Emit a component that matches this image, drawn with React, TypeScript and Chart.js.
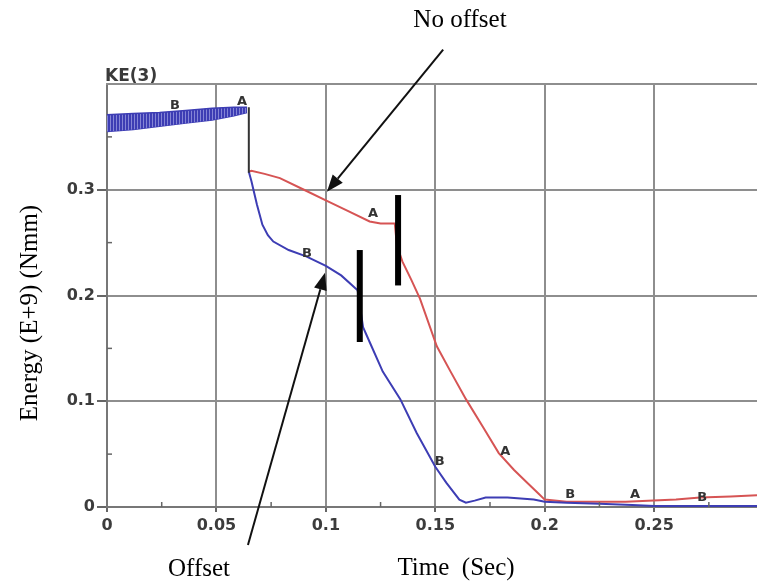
import React, { useEffect, useRef } from "react";
import { Chart, registerables } from "chart.js";

Chart.register(...registerables);

// ---- data (time in s, energy in E+9 Nmm) ----
const bandX = [0, 0.012, 0.024, 0.036, 0.048, 0.058, 0.064];
const bandTop = [0.371, 0.372, 0.373, 0.375, 0.377, 0.378, 0.378];
const bandBottom = [0.355, 0.357, 0.360, 0.363, 0.366, 0.370, 0.373];

const dropX = [0.0648, 0.0648];
const dropY = [0.378, 0.316];

const blueX = [0.0648, 0.066, 0.0685, 0.071, 0.0735, 0.076, 0.083, 0.091, 0.1, 0.107, 0.1145, 0.117, 0.12, 0.126, 0.134, 0.1415, 0.15, 0.155, 0.161, 0.164, 0.168, 0.173, 0.183, 0.195, 0.2, 0.21, 0.225, 0.24, 0.25, 0.297];
const blueY = [0.317, 0.308, 0.286, 0.267, 0.257, 0.251, 0.243, 0.237, 0.228, 0.219, 0.205, 0.170, 0.156, 0.128, 0.102, 0.070, 0.038, 0.023, 0.007, 0.004, 0.006, 0.009, 0.009, 0.007, 0.005, 0.004, 0.003, 0.002, 0.001, 0.001];

const redX = [0.0648, 0.066, 0.072, 0.079, 0.09, 0.1, 0.11, 0.12, 0.125, 0.1315, 0.1325, 0.135, 0.139, 0.143, 0.1507, 0.157, 0.164, 0.172, 0.179, 0.186, 0.192, 0.197, 0.2, 0.21, 0.237, 0.26, 0.271, 0.285, 0.297];
const redY = [0.317, 0.318, 0.315, 0.311, 0.300, 0.290, 0.280, 0.270, 0.268, 0.268, 0.247, 0.232, 0.215, 0.197, 0.152, 0.128, 0.102, 0.075, 0.051, 0.035, 0.023, 0.013, 0.007, 0.005, 0.005, 0.007, 0.009, 0.010, 0.011];

const xTicks = [0, 0.05, 0.1, 0.15, 0.2, 0.25];
const xTickLabels = ["0", "0.05", "0.1", "0.15", "0.2", "0.25"];
const yTicks = [0, 0.1, 0.2, 0.3];
const yTickLabels = ["0", "0.1", "0.2", "0.3"];
const xMinorTicks = [0.025, 0.075, 0.125, 0.175, 0.225, 0.275];
const yMinorTicks = [0.05, 0.15, 0.25, 0.35];

const curveLabels = ["B", "A", "A", "B", "B", "A", "B", "A", "B"];
const curveLabelX = [0.031, 0.0617, 0.1216, 0.0914, 0.152, 0.182, 0.2116, 0.2413, 0.272];
const curveLabelY = [0.380, 0.383, 0.277, 0.240, 0.0426, 0.052, 0.0114, 0.0114, 0.0085];

const markerX = [0.1155, 0.133];
const markerLow = [0.156, 0.2095];
const markerHigh = [0.243, 0.295];

const arrowFromX = [0.1536, 0.0644];
const arrowFromY = [0.4324, -0.036];
const arrowToX = [0.1005, 0.0996];
const arrowToY = [0.298, 0.2214];

const titleText = "KE(3)";
const xTitle = "Time  (Sec)";
const yTitle = "Energy (E+9) (Nmm)";
const noteNoOffset = "No offset";
const noteOffset = "Offset";

const BLUE = "#3d3db4";
const RED = "#d65454";
const GRID = "#8e8e8e";

const pts = (xs: number[], ys: number[]) => xs.map((x, i) => ({ x, y: ys[i] }));

function makePattern(): CanvasPattern | string {
  const c = document.createElement("canvas");
  c.width = 3;
  c.height = 3;
  const g = c.getContext("2d");
  if (!g) return BLUE;
  g.fillStyle = "#8585d6";
  g.fillRect(0, 0, 3, 3);
  g.fillStyle = BLUE;
  g.fillRect(0, 0, 2, 3);
  return g.createPattern(c, "repeat") || BLUE;
}

const decor = {
  id: "decor",
  afterDatasetsDraw(chart: any) {
    const ctx = chart.ctx as CanvasRenderingContext2D;
    const xs = chart.scales.x;
    const ys = chart.scales.y;
    const a = chart.chartArea;
    ctx.save();
    // top frame
    ctx.strokeStyle = GRID;
    ctx.lineWidth = 2;
    ctx.beginPath();
    ctx.moveTo(a.left - 1, a.top);
    ctx.lineTo(a.right, a.top);
    ctx.stroke();
    // minor ticks
    ctx.strokeStyle = "#666";
    ctx.lineWidth = 1.5;
    xMinorTicks.forEach((v) => {
      const px = xs.getPixelForValue(v);
      ctx.beginPath();
      ctx.moveTo(px, a.bottom);
      ctx.lineTo(px, a.bottom - 5);
      ctx.stroke();
    });
    yMinorTicks.forEach((v) => {
      const py = ys.getPixelForValue(v);
      ctx.beginPath();
      ctx.moveTo(a.left, py);
      ctx.lineTo(a.left + 5, py);
      ctx.stroke();
    });
    // curve labels
    ctx.fillStyle = "#333";
    ctx.font = "bold 13px 'DejaVu Sans'";
    ctx.textAlign = "center";
    ctx.textBaseline = "middle";
    curveLabels.forEach((t, i) => {
      ctx.fillText(t, xs.getPixelForValue(curveLabelX[i]), ys.getPixelForValue(curveLabelY[i]));
    });
    // marker bars
    ctx.strokeStyle = "#000";
    ctx.lineWidth = 6;
    ctx.lineCap = "butt";
    markerX.forEach((v, i) => {
      const px = xs.getPixelForValue(v);
      ctx.beginPath();
      ctx.moveTo(px, ys.getPixelForValue(markerLow[i]));
      ctx.lineTo(px, ys.getPixelForValue(markerHigh[i]));
      ctx.stroke();
    });
    // arrows
    ctx.lineWidth = 2;
    ctx.fillStyle = "#111";
    ctx.strokeStyle = "#111";
    arrowFromX.forEach((v, i) => {
      const x0 = xs.getPixelForValue(v);
      const y0 = ys.getPixelForValue(arrowFromY[i]);
      const x1 = xs.getPixelForValue(arrowToX[i]);
      const y1 = ys.getPixelForValue(arrowToY[i]);
      const ang = Math.atan2(y1 - y0, x1 - x0);
      const L = 17;
      const W = 6.5;
      const bx = x1 - L * Math.cos(ang);
      const by = y1 - L * Math.sin(ang);
      ctx.beginPath();
      ctx.moveTo(x0, y0);
      ctx.lineTo(bx, by);
      ctx.stroke();
      ctx.beginPath();
      ctx.moveTo(x1, y1);
      ctx.lineTo(bx + W * Math.sin(ang), by - W * Math.cos(ang));
      ctx.lineTo(bx - W * Math.sin(ang), by + W * Math.cos(ang));
      ctx.closePath();
      ctx.fill();
    });
    // texts
    ctx.fillStyle = "#3a3a3a";
    ctx.font = "bold 17px 'DejaVu Sans'";
    ctx.textAlign = "left";
    ctx.textBaseline = "alphabetic";
    ctx.fillText(titleText, a.left - 2, a.top - 3);

    ctx.fillStyle = "#000";
    ctx.font = "25px 'Liberation Serif', 'Times New Roman', serif";
    ctx.textAlign = "center";
    ctx.fillText(noteNoOffset, 460, 27);
    ctx.fillText(noteOffset, 199, 576);
    ctx.fillText(xTitle, 456, 575);
    ctx.save();
    ctx.translate(37, 313);
    ctx.rotate(-Math.PI / 2);
    ctx.fillText(yTitle, 0, 0);
    ctx.restore();
    ctx.restore();
  },
};

export default function App() {
  const ref = useRef<HTMLCanvasElement | null>(null);
  useEffect(() => {
    if (!ref.current) return;
    const chart = new Chart(ref.current, {
      type: "line",
      data: {
        datasets: [
          { data: pts(dropX, dropY), borderColor: "#333", borderWidth: 2, pointRadius: 0, fill: false },
          { data: pts(blueX, blueY), borderColor: BLUE, borderWidth: 2, pointRadius: 0, fill: false, tension: 0 },
          { data: pts(redX, redY), borderColor: RED, borderWidth: 2, pointRadius: 0, fill: false, tension: 0 },
          { data: pts(bandX, bandTop), borderColor: BLUE, borderWidth: 1.5, pointRadius: 0, fill: "+1", backgroundColor: makePattern() as any },
          { data: pts(bandX, bandBottom), borderColor: BLUE, borderWidth: 1.5, pointRadius: 0, fill: false },
        ],
      },
      options: {
        animation: false,
        responsive: false,
        devicePixelRatio: 1,
        parsing: true,
        layout: { padding: { left: 0, top: 84, right: 0, bottom: 0 } },
        plugins: { legend: { display: false }, tooltip: { enabled: false } },
        scales: {
          x: {
            type: "linear",
            min: 0,
            max: 0.297,
            afterBuildTicks: (s: any) => { s.ticks = xTicks.map((v) => ({ value: v })); },
            afterFit: (s: any) => { s.height = 77; },
            ticks: {
              autoSkip: false,
              maxRotation: 0,
              padding: 4,
              color: "#3c3c3c",
              font: { family: "'DejaVu Sans'", size: 16, weight: "bold" },
              callback: (_v: any, i: number) => xTickLabels[i],
            },
            grid: { color: GRID, lineWidth: 2, tickLength: 5, tickColor: "#666" },
            border: { color: "#777", width: 2 },
          },
          y: {
            type: "linear",
            min: 0,
            max: 0.4,
            afterBuildTicks: (s: any) => { s.ticks = yTicks.map((v) => ({ value: v })); },
            afterFit: (s: any) => { s.width = 107; },
            ticks: {
              autoSkip: false,
              padding: 2,
              color: "#3c3c3c",
              font: { family: "'DejaVu Sans'", size: 16, weight: "bold" },
              callback: (_v: any, i: number) => yTickLabels[i],
            },
            grid: { color: GRID, lineWidth: 2, tickLength: 10, tickColor: "#666" },
            border: { color: "#777", width: 2 },
          },
        },
      },
      plugins: [decor],
    } as any);
    return () => chart.destroy();
  }, []);
  return (
    <div style={{ position: "absolute", left: 0, top: 0, width: 757, height: 584, background: "#fff" }}>
      <canvas ref={ref} width={757} height={584} style={{ width: 757, height: 584, display: "block" }} />
    </div>
  );
}
